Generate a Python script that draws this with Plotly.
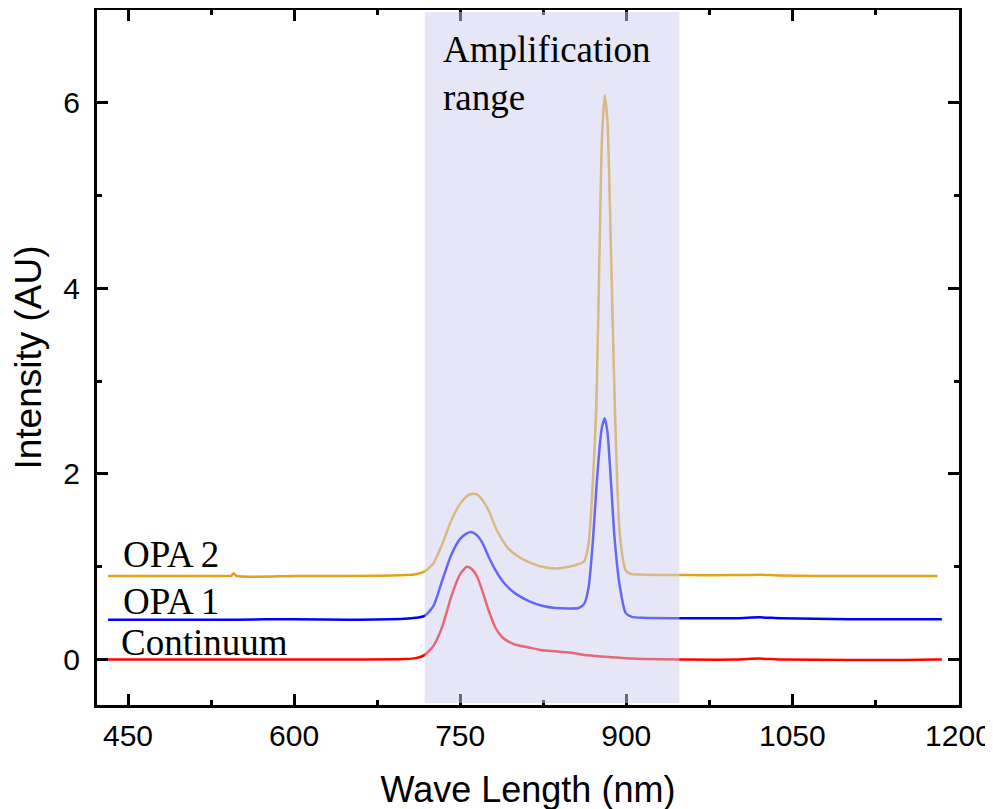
import plotly.graph_objects as go

# wavelength grid (nm) and intensities
wavelength = [432, 500, 540, 543, 545.5, 548, 600, 650, 700, 710, 718, 726, 734, 742, 750, 756, 760, 765,
              770, 776, 782, 788, 794, 800, 812, 824, 836, 848, 857, 862, 866, 870, 873, 876, 878, 880.5,
              883, 886, 889.5, 894, 899.5, 905, 915, 950, 1000, 1020, 1040, 1100, 1150, 1181, 1185]

continuum = [0, 0, 0, 0, 0, 0, 0, 0, 0.005, 0.015, 0.05, 0.15, 0.36, 0.68, 0.92, 1.0, 0.98, 0.9,
             0.74, 0.52, 0.34, 0.24, 0.19, 0.16, 0.13, 0.1, 0.09, 0.075, 0.06, 0.05, 0.045, 0.04, 0.037,
             0.034, 0.032, 0.03, 0.028, 0.025, 0.022, 0.02, 0.015, 0.01, 0.005, 0.0, 0.0, 0.01, 0.0,
             -0.005, -0.005, 0.0, 0.0]

opa1 = [0.43, 0.43, 0.43, 0.43, 0.43, 0.43, 0.435, 0.43, 0.44, 0.45, 0.47, 0.58, 0.86, 1.13, 1.3, 1.36,
        1.375, 1.34, 1.26, 1.1, 0.96, 0.85, 0.77, 0.71, 0.63, 0.58, 0.555, 0.55, 0.555, 0.6, 0.78, 1.3,
        1.85, 2.3, 2.5, 2.6, 2.45, 1.95, 1.3, 0.8, 0.5, 0.46, 0.45, 0.445, 0.445, 0.455, 0.445, 0.435,
        0.435, 0.435, 0.435]

opa2 = [0.9, 0.9, 0.9, 0.9, 0.93, 0.9, 0.9, 0.9, 0.91, 0.92, 0.95, 1.04, 1.25, 1.5, 1.68, 1.76, 1.785,
        1.78, 1.72, 1.6, 1.42, 1.29, 1.19, 1.13, 1.05, 1.0, 0.98, 1.0, 1.03, 1.06, 1.25, 1.95, 2.75, 4.5,
        5.6, 6.08, 5.8, 4.5, 2.8, 1.37, 0.96, 0.92, 0.915, 0.91, 0.91, 0.915, 0.905, 0.9, 0.9, 0.9, None]

amp_start, amp_end = 718, 948

fig = go.Figure()
fig.add_trace(go.Scatter(x=wavelength, y=continuum, mode="lines", line=dict(color="#ff0000", width=2.5, shape="spline", smoothing=0.6)))
fig.add_trace(go.Scatter(x=wavelength, y=opa1, mode="lines", line=dict(color="#0000ff", width=2.5, shape="spline", smoothing=0.6)))
fig.add_trace(go.Scatter(x=wavelength, y=opa2, mode="lines", line=dict(color="#e3a21a", width=2.5, shape="spline", smoothing=0.6)))

# shaded amplification range, drawn over the curves
fig.add_shape(type="rect", xref="x", yref="y domain", x0=amp_start, x1=amp_end, y0=0.003, y1=0.997,
              fillcolor="rgb(205,205,238)", opacity=0.5, line_width=0, layer="above")

serif = dict(family="Liberation Serif, Times New Roman, serif", size=37, color="black")
fig.add_annotation(x=733, y=6.32, text="Amplification<br>range", showarrow=False,
                   xanchor="left", yanchor="middle", align="left", font=serif)
fig.add_annotation(x=444, y=1.135, text="OPA 2", showarrow=False, xanchor="left", yanchor="middle", font=serif)
fig.add_annotation(x=444, y=0.63, text="OPA 1", showarrow=False, xanchor="left", yanchor="middle", font=serif)
fig.add_annotation(x=442, y=0.18, text="Continuum", showarrow=False, xanchor="left", yanchor="middle", font=serif)

sans = "Liberation Sans, Arial, sans-serif"
axis_font = dict(family=sans, size=30, color="black")
# margins allow for the 8px page offset of the html body
fig.update_layout(
    width=993, height=809,
    margin=dict(l=89, r=42, t=2, b=112),
    plot_bgcolor="white", paper_bgcolor="white",
    showlegend=False,
    xaxis=dict(
        range=[422, 1200.5], tick0=450, dtick=150, automargin=False,
        showline=True, linecolor="black", linewidth=3, mirror="ticks",
        ticks="inside", ticklen=11, tickwidth=3, tickcolor="black",
        minor=dict(ticks="inside", ticklen=5, tickwidth=3, tickcolor="black", dtick=75, tick0=450),
        showgrid=False, zeroline=False,
        tickfont=axis_font, ticklabelstandoff=2,
        title=dict(text="Wave Length (nm)", font=dict(family=sans, size=36, color="black"), standoff=26),
    ),
    yaxis=dict(
        range=[-0.49, 7.0], tick0=0, dtick=2, automargin=False,
        showline=True, linecolor="black", linewidth=3, mirror="ticks",
        ticks="inside", ticklen=11, tickwidth=3, tickcolor="black",
        minor=dict(ticks="inside", ticklen=5, tickwidth=3, tickcolor="black", dtick=1, tick0=0),
        showgrid=False, zeroline=False,
        tickfont=axis_font, ticklabelstandoff=8,
        title=dict(text="Intensity (AU)", font=dict(family=sans, size=37, color="black"), standoff=14),
    ),
)

fig.write_html("out.html")
